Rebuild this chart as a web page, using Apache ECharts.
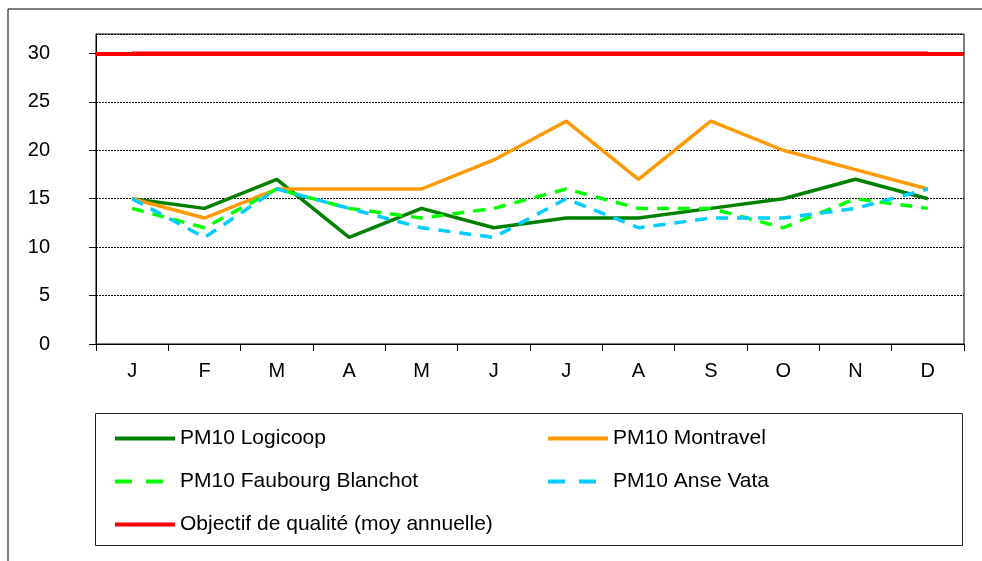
<!DOCTYPE html>
<html>
<head>
<meta charset="utf-8">
<script src="https://cdn.jsdelivr.net/npm/echarts@6/dist/echarts.min.js"></script>
<style>
  html, body { margin: 0; padding: 0; background: #fff; }
  #chart { width: 982px; height: 561px; }
</style>
</head>
<body>
<div id="chart"></div>
<script>
// mois
const months = ['J', 'F', 'M', 'A', 'M', 'J', 'J', 'A', 'S', 'O', 'N', 'D'];

// PM10 moyennes mensuelles
const logicoop = [15, 14, 17, 11, 14, 12, 13, 13, 14, 15, 17, 15];
const montravel = [15, 13, 16, 16, 16, 19, 23, 17, 23, 20, 18, 16];
const faubourgBlanchot = [14, 12, 16, 14, 13, 14, 16, 14, 14, 12, 15, 14];
const anseVata = [15, 11, 16, 14, 12, 11, 15, 12, 13, 13, 14, 16];
const objectifValue = 30;
const objectif = months.map(() => objectifValue);

const font = 'Liberation Sans, Arial, sans-serif';

const chart = echarts.init(document.getElementById('chart'));

// une légende par entrée pour placer les colonnes comme dans l'original
const legendItem = (name, left, top, dashed) => ({
    data: [name],
    left: left,
    top: top,
    itemWidth: 60,
    itemHeight: 14,
    itemStyle: { opacity: 0 },
    lineStyle: dashed ? { width: 4, type: [17, 14] } : { width: 4 },
    textStyle: { fontFamily: font, fontSize: 21, color: '#000', lineHeight: 21 },
    selectedMode: false
});

const option = {
    animation: false,
    textStyle: { fontFamily: font },
    grid: {
        left: 96,
        right: 18,
        top: 34,
        bottom: 217,
        show: true,
        borderColor: '#000',
        borderWidth: 1
    },
    graphic: [
        // cadre extérieur
        { type: 'line', shape: { x1: 8, y1: 9, x2: 8, y2: 561 }, style: { stroke: '#000', lineWidth: 1 } },
        { type: 'line', shape: { x1: 8, y1: 9, x2: 982, y2: 9 }, style: { stroke: '#000', lineWidth: 1 } },
        // cadre de la légende
        { type: 'rect', shape: { x: 95.5, y: 413.5, width: 867, height: 132 }, style: { fill: 'none', stroke: '#222', lineWidth: 1 }, z: -1 }
    ],
    legend: [
        legendItem('PM10 Logicoop', 108, 423, false),
        legendItem('PM10 Montravel', 541, 423, false),
        legendItem('PM10 Faubourg Blanchot', 108, 466, true),
        legendItem('PM10 Anse Vata', 541, 466, true),
        legendItem('Objectif de qualité (moy annuelle)', 108, 509, false)
    ],
    xAxis: {
        type: 'category',
        data: months,
        boundaryGap: true,
        axisLine: { lineStyle: { color: '#000', width: 1 } },
        axisTick: { show: true, length: 7, lineStyle: { color: '#000' } },
        axisLabel: { color: '#000', fontSize: 20, margin: 17, fontFamily: font },
        splitLine: { show: false }
    },
    yAxis: {
        type: 'value',
        min: 0,
        max: 32,
        interval: 5,
        axisLine: { show: true, lineStyle: { color: '#000', width: 1 } },
        axisTick: { show: true, length: 7, lineStyle: { color: '#000' } },
        axisLabel: { color: '#000', fontSize: 20, margin: 46, fontFamily: font, showMaxLabel: false },
        splitLine: { show: true, lineStyle: { color: '#000', type: [2, 1], width: 1 } }
    },
    series: [
        {
            name: 'PM10 Logicoop',
            type: 'line',
            data: logicoop,
            symbol: 'none',
            color: '#008000',
            lineStyle: { color: '#008000', width: 3.5 }
        },
        {
            name: 'PM10 Montravel',
            type: 'line',
            data: montravel,
            symbol: 'none',
            color: '#FF9900',
            lineStyle: { color: '#FF9900', width: 3.5 }
        },
        {
            name: 'PM10 Faubourg Blanchot',
            type: 'line',
            data: faubourgBlanchot,
            symbol: 'none',
            color: '#00FF00',
            lineStyle: { color: '#00FF00', width: 3.5, type: [12, 9] }
        },
        {
            name: 'PM10 Anse Vata',
            type: 'line',
            data: anseVata,
            symbol: 'none',
            color: '#00CCFF',
            lineStyle: { color: '#00CCFF', width: 3.5, type: [12, 9] }
        },
        {
            name: 'Objectif de qualité (moy annuelle)',
            type: 'line',
            data: objectif,
            symbol: 'none',
            color: '#FF0000',
            lineStyle: { color: '#FF0000', width: 4 },
            // la ligne d'objectif couvre toute la largeur du graphique
            markLine: {
                silent: true,
                symbol: 'none',
                label: { show: false },
                lineStyle: { color: '#FF0000', width: 4, type: 'solid' },
                data: [{ yAxis: objectifValue }]
            }
        }
    ]
};

chart.setOption(option);
</script>
</body>
</html>
